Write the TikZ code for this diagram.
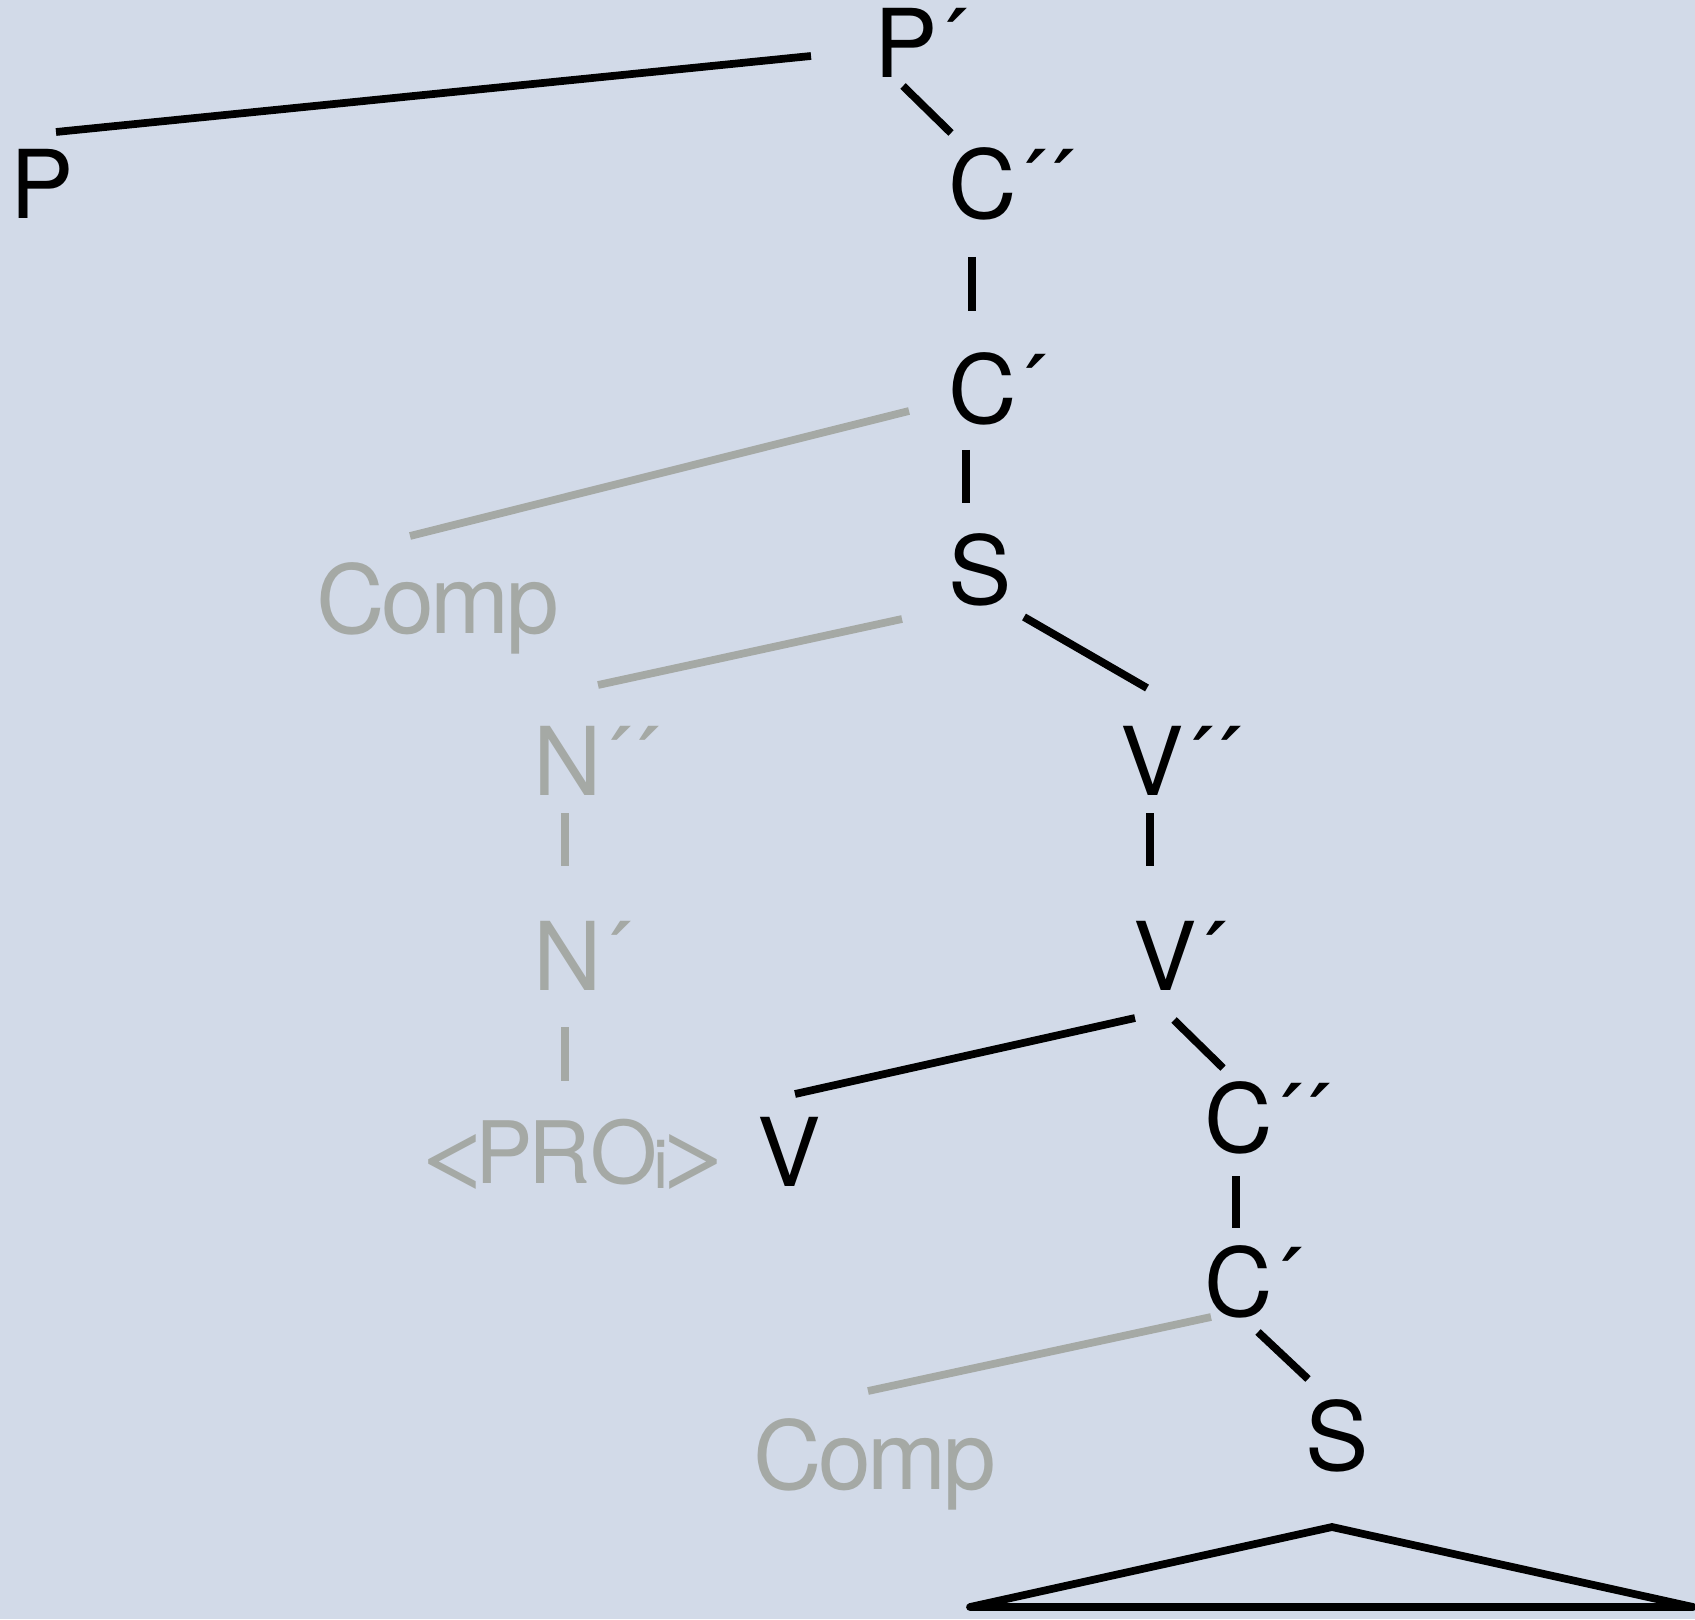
\documentclass[tikz,border=0pt]{standalone}
\usepackage{fontspec}
\setmainfont{TeX Gyre Heros}[LetterSpace=-4]
\usepackage{tikz}
\definecolor{bgblue}{RGB}{210,218,232}
\definecolor{faintgrey}{RGB}{165,169,165}
\newcommand{\treefont}{\fontsize{27}{32}\selectfont}
\newcommand{\profont}{\fontsize{24.5}{29}\selectfont}
\newcommand{\pro}{\makebox[.734em][l]{\scalebox{1.65}[1]{\textless}}\makebox[.605em][l]{P}\makebox[.723em][l]{R}\makebox[.730em][l]{O}\makebox[0pt][l]{\raisebox{-0.058em}{\fontsize{19.4}{20}\selectfont i}}\scalebox{1.65}[1]{\textgreater}}
\tikzset{
  lbl/.style={anchor=base west, inner sep=0pt, font=\treefont},
  faint/.style={text=faintgrey},
  branch/.style={line width=2.2pt},
  faintbranch/.style={line width=2.2pt, faintgrey}
}

\begin{document}
\begin{tikzpicture}[x=0.01cm,y=-0.01cm]
    \useasboundingbox (0,0) rectangle (1695,1619);
    \fill[bgblue] (0,0) rectangle (1695,1619);
    % labels
    \node[lbl] (Pb) at (874,78) {P´};
    \node[lbl] (P) at (10,219) {P};
    \node[lbl] (Cbb) at (948,219) {C´´};
    \node[lbl] (Cb) at (948,424) {C´};
    \node[lbl] (S) at (948,604) {S};
    \node[lbl, faint] (Comp) at (316,633) {Comp};
    \node[lbl, faint] (Nbb) at (533,795) {N´´};
    \node[lbl, faint] (Nb) at (533,990) {N´};
    \node[lbl, faint, font=\profont] (PRO) at (412,1183) {\pro};
    \node[lbl] (V) at (757,1186) {V};
    \node[lbl] (Vbb) at (1120,795) {V´´};
    \node[lbl] (Vb) at (1133,990) {V´};
    \node[lbl] (Cbbb) at (1204,1152) {C´´};
    \node[lbl] (Cbbt) at (1204,1316) {C´};
    \node[lbl, faint] (Compb) at (753,1489) {Comp};
    \node[lbl] (Sb) at (1305,1470) {S};
    % branches
    \draw[branch] ([shift={(-63,-22)}]Pb.base west) -- ([shift={(46,-87)}]P.base west);
    \draw[branch] ([shift={(29,8)}]Pb.base west) -- ([shift={(3,-86)}]Cbb.base west);
    \draw[branch] ([shift={(24,38)}]Cbb.base west) -- ([shift={(24,-113)}]Cb.base west);
    \draw[faintbranch] ([shift={(-39,-13)}]Cb.base west) -- ([shift={(94,-97)}]Comp.base west);
    \draw[branch] ([shift={(18,26)}]Cb.base west) -- ([shift={(18,-101)}]S.base west);
    \draw[faintbranch] ([shift={(-46,15)}]S.base west) -- ([shift={(65,-110)}]Nbb.base west);
    \draw[branch] ([shift={(76,13)}]S.base west) -- ([shift={(27,-107)}]Vbb.base west);
    \draw[faintbranch] ([shift={(32,18)}]Nbb.base west) -- ([shift={(32,-124)}]Nb.base west);
    \draw[faintbranch] ([shift={(32,37)}]Nb.base west) -- ([shift={(153,-102)}]PRO.base west);
    \draw[branch] ([shift={(30,18)}]Vbb.base west) -- ([shift={(17,-124)}]Vb.base west);
    \draw[branch] ([shift={(2,28)}]Vb.base west) -- ([shift={(38,-92)}]V.base west);
    \draw[branch] ([shift={(41,30)}]Vb.base west) -- ([shift={(19,-84)}]Cbbb.base west);
    \draw[branch] ([shift={(32,24)}]Cbbb.base west) -- ([shift={(32,-88)}]Cbbt.base west);
    \draw[faintbranch] ([shift={(7,1)}]Cbbt.base west) -- ([shift={(115,-98)}]Compb.base west);
    \draw[branch] ([shift={(54,16)}]Cbbt.base west) -- ([shift={(3,-91)}]Sb.base west);
    % triangle
    \draw[branch, line join=round, line cap=round] ([shift={(27,57)}]Sb.base west) -- ([shift={(-335,137)}]Sb.base west)
      -- ([shift={(388,137)}]Sb.base west) -- cycle;
\end{tikzpicture}
\end{document}
